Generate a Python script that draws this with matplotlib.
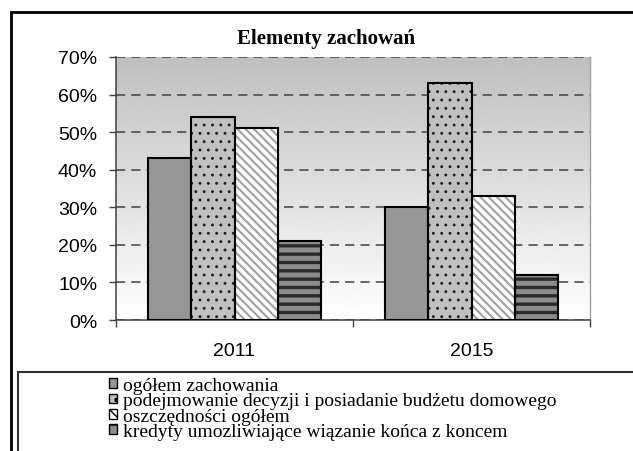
import matplotlib
matplotlib.use("Agg")
import matplotlib.pyplot as plt
import numpy as np
from matplotlib.patches import Rectangle, Patch

# ---- data ----
categories = ["2011", "2015"]
series_names = [
    "ogółem zachowania",
    "podejmowanie decyzji i posiadanie budżetu domowego",
    "oszczędności ogółem",
    "kredyty umozliwiające wiązanie końca z koncem",
]
values_ogolem = [43, 30]
values_decyzje = [54, 63]
values_oszczednosci = [51, 33]
values_kredyty = [21, 12]
ytick_values = [0, 10, 20, 30, 40, 50, 60, 70]
title = "Elementy zachowań"

series_values = [values_ogolem, values_decyzje, values_oszczednosci, values_kredyty]

# styles: (facecolor, hatch, hatchcolor, hatch linewidth)
styles = [
    ("#969696", None, None, 1.0),
    ("#c0c0c0", "..", "#202020", 0.9),
    ("#ffffff", "\\\\\\\\", "#a0a0a0", 1.5),
    ("#8c8c8c", "--", "#2a2a2a", 2.4),
]

W, H = 633, 452
fig = plt.figure(figsize=(W / 100, H / 100), dpi=100)
fig.patch.set_facecolor("white")

def fx(px):
    return px / W

def fy(py):
    return 1 - py / H

ax = fig.add_axes([fx(116), fy(321), fx(590) - fx(116), fy(58) - fy(321)])

# gradient background
grad = np.linspace(0.75, 1.0, 256).reshape(-1, 1)
ax.imshow(grad, extent=[0, 1, 0, 1], transform=ax.transAxes, aspect="auto",
          cmap="gray", vmin=0, vmax=1, zorder=0, origin="upper")

x = np.arange(len(categories))
bw = 0.1815
for i, (vals, (fc, hatch, hc, hlw)) in enumerate(zip(series_values, styles)):
    pos = x + (i - 1.5) * bw
    if hatch:
        with plt.rc_context({"hatch.linewidth": hlw}):
            bars = ax.bar(pos, vals, width=bw, color=fc, hatch=hatch, edgecolor=hc,
                          linewidth=0, zorder=2)
        for b in bars:
            if hasattr(b, "set_hatch_linewidth"):
                b.set_hatch_linewidth(hlw)
    else:
        ax.bar(pos, vals, width=bw, color=fc, linewidth=0, zorder=2)
    ax.bar(pos, vals, width=bw, fill=False, edgecolor="black", linewidth=1.5, zorder=3)

ax.set_xlim(-0.5, 1.5)
ax.set_ylim(0, 70)

ax.set_yticks(ytick_values)
ax.set_yticklabels([f"{v}%" for v in ytick_values])
ax.set_xticks(x)
ax.set_xticklabels(categories)
ax.set_xticks([-0.5, 0.5, 1.5], minor=True)

sans = "Liberation Sans"
serif = "Liberation Serif"
for lab in ax.get_yticklabels() + ax.get_xticklabels():
    lab.set_fontfamily(sans)
    lab.set_fontsize(14)
    lab.set_color("black")

ax.tick_params(axis="y", direction="out", length=5, width=1, color="#404040", pad=8.5)
ax.tick_params(axis="x", which="major", length=0, pad=16)
ax.tick_params(axis="x", which="minor", direction="out", length=5, width=1, color="#404040")

ax.set_axisbelow(True)
ax.yaxis.grid(True, linestyle=(0, (6, 4)), color="#404040", linewidth=1.1, zorder=1)
ax.xaxis.grid(False)

for side in ["left", "bottom"]:
    ax.spines[side].set_color("#404040")
    ax.spines[side].set_linewidth(1.1)
ax.spines["right"].set_color("#a0a0a0")
ax.spines["right"].set_linewidth(1)
ax.spines["top"].set_visible(False)

# title
fig.text(fx(326), fy(39), title, ha="center", va="center",
         fontfamily=serif, fontweight="bold", fontsize=15)

# outer chart border (extends beyond right/bottom edge)
fig.patches.append(Rectangle((fx(11), fy(H + 20)), fx(W + 20) - fx(11), fy(13) - fy(H + 20),
                             transform=fig.transFigure, fill=False, edgecolor="black",
                             linewidth=2, clip_on=False))
# legend frame
fig.patches.append(Rectangle((fx(18), fy(H + 20)), fx(W + 20) - fx(18), fy(373) - fy(H + 20),
                             transform=fig.transFigure, fill=False, edgecolor="#303030",
                             linewidth=1.5, clip_on=False))

handles = []
for name, (fc, hatch, hc, hlw) in zip(series_names, styles):
    handles.append(Patch(facecolor=fc, edgecolor="black", linewidth=1,
                         hatch=(hatch[:1] if hatch else None)))
leg = fig.legend(handles, series_names, loc="upper left",
                 bbox_to_anchor=(fx(109), fy(378)), bbox_transform=fig.transFigure,
                 frameon=False, prop={"family": serif, "size": 14},
                 handlelength=0.4, handleheight=0.4, handletextpad=0.33,
                 labelspacing=-0.08, borderpad=0, borderaxespad=0)

fig.savefig("out.png", dpi=100)
